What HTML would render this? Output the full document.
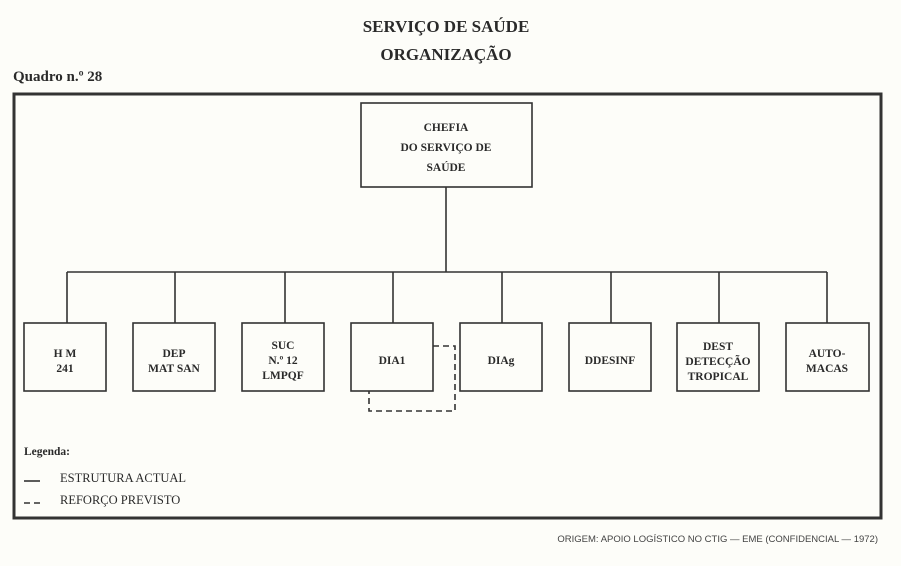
<!DOCTYPE html>
<html><head><meta charset="utf-8"><style>
body{margin:0;background:#fdfdf9;}
svg text{font-family:"Liberation Serif",serif;font-weight:bold;fill:#2a2a2a;}
svg text.n{font-weight:normal;}
</style></head><body>
<svg width="901" height="561" xmlns="http://www.w3.org/2000/svg">
<rect width="901" height="561" fill="#fdfdf9"/>
<text x="446" y="32" font-size="17" text-anchor="middle">SERVIÇO DE SAÚDE</text>
<text x="446" y="60" font-size="17" text-anchor="middle">ORGANIZAÇÃO</text>
<text x="13" y="81" font-size="15">Quadro n.º 28</text>
<rect x="14" y="94" width="867" height="424" fill="none" stroke="#333" stroke-width="3"/>
<g stroke="#333" stroke-width="1.6" fill="none">
<rect x="361" y="103" width="171" height="84"/>
<line x1="446" y1="187" x2="446" y2="272"/>
<line x1="67" y1="272" x2="827" y2="272"/>
<line x1="67" y1="272" x2="67" y2="323"/><line x1="175" y1="272" x2="175" y2="323"/>
<line x1="285" y1="272" x2="285" y2="323"/><line x1="393" y1="272" x2="393" y2="323"/>
<line x1="502" y1="272" x2="502" y2="323"/><line x1="611" y1="272" x2="611" y2="323"/>
<line x1="719" y1="272" x2="719" y2="323"/><line x1="827" y1="272" x2="827" y2="323"/>
<rect x="24" y="323" width="82" height="68"/><rect x="133" y="323" width="82" height="68"/>
<rect x="242" y="323" width="82" height="68"/><rect x="351" y="323" width="82" height="68"/>
<rect x="460" y="323" width="82" height="68"/><rect x="569" y="323" width="82" height="68"/>
<rect x="677" y="323" width="82" height="68"/><rect x="786" y="323" width="83" height="68"/>
<polyline points="433,346 455,346 455,411 369,411 369,391" stroke-dasharray="6,4"/>
<line x1="24" y1="481" x2="40" y2="481"/>
<line x1="24" y1="503" x2="40" y2="503" stroke-dasharray="6,4"/>
</g>
<g font-size="11.5" text-anchor="middle">
<text x="446" y="131">CHEFIA</text><text x="446" y="151">DO SERVIÇO DE</text><text x="446" y="171">SAÚDE</text>
<text x="65" y="357">H M</text><text x="65" y="372">241</text>
<text x="174" y="357">DEP</text><text x="174" y="372">MAT SAN</text>
<text x="283" y="349">SUC</text><text x="283" y="364">N.º 12</text><text x="283" y="379">LMPQF</text>
<text x="392" y="364">DIA1</text>
<text x="501" y="364">DIAg</text>
<text x="610" y="364">DDESINF</text>
<text x="718" y="350">DEST</text><text x="718" y="365">DETECÇÃO</text><text x="718" y="380">TROPICAL</text>
<text x="827" y="357">AUTO-</text><text x="827" y="372">MACAS</text>
</g>
<text x="24" y="455" font-size="11.5">Legenda:</text>
<text class="n" x="60" y="482" font-size="12.5">ESTRUTURA ACTUAL</text>
<text class="n" x="60" y="504" font-size="12.5">REFORÇO PREVISTO</text>
<text class="n" x="878" y="542" font-size="9.5" text-anchor="end" style="font-family:'Liberation Sans',sans-serif;fill:#444">ORIGEM: APOIO LOGÍSTICO NO CTIG — EME (CONFIDENCIAL — 1972)</text>
</svg>
</body></html>
